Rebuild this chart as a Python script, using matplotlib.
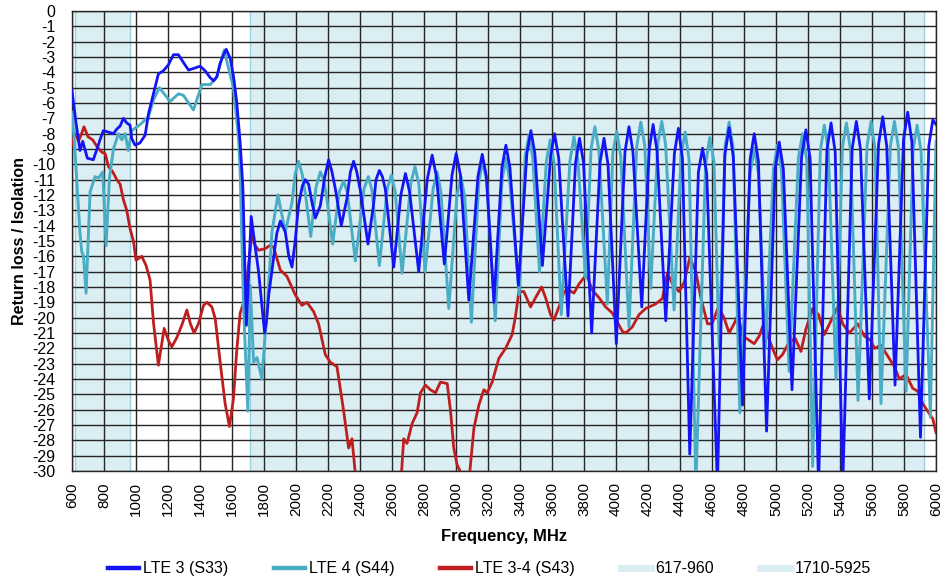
import matplotlib
matplotlib.use("Agg")
import matplotlib.pyplot as plt
from matplotlib.lines import Line2D

plt.rcParams['font.family'] = ['Liberation Sans', 'DejaVu Sans']

# ---------------- data ----------------
s33_freq = [600, 625, 650, 667, 680, 696, 733, 753, 775, 796, 828, 859, 880, 901, 921, 942, 963, 973, 994,
            1025, 1057, 1078, 1109, 1140, 1171, 1203, 1234, 1265, 1296, 1328, 1359, 1401, 1432, 1464, 1485,
            1505, 1526, 1547, 1564, 1589, 1610, 1630, 1651, 1668, 1690, 1720, 1740, 1766, 1790, 1804, 1815,
            1830, 1860, 1880, 1902, 1933, 1955, 1975, 1995, 2016, 2040, 2058, 2079, 2100, 2121, 2152, 2180,
            2204, 2225, 2246, 2283, 2319, 2340, 2360, 2380, 2402, 2450, 2485, 2500, 2521, 2540, 2558, 2611,
            2655, 2684, 2710, 2767, 2820, 2851, 2878, 2927, 2975, 3001, 3028, 3080, 3137, 3164, 3190, 3237,
            3287, 3312, 3337, 3390, 3443, 3468, 3493, 3540, 3592, 3616, 3642, 3700, 3747, 3772, 3797, 3848,
            3900, 3925, 3950, 4002, 4056, 4081, 4106, 4161, 4208, 4232, 4256, 4311, 4365, 4390, 4415, 4461,
            4515, 4541, 4567, 4634, 4680, 4707, 4733, 4791, 4838, 4864, 4890, 4941, 4995, 5020, 5046, 5100,
            5160, 5187, 5213, 5266, 5318, 5344, 5370, 5417, 5476, 5502, 5528, 5583, 5641, 5667, 5692, 5744,
            5797, 5823, 5849, 5903, 5955, 5980, 6000]
s33_db = [-5.2, -7.3, -9.1, -8.5, -9.0, -9.6, -9.7, -9.1, -8.4, -7.8, -7.9, -8.0, -7.7, -7.5, -7.0, -7.3, -7.45,
          -8.3, -8.75, -8.6, -8.1, -6.7, -5.4, -4.1, -3.9, -3.5, -2.85, -2.85, -3.35, -3.85, -3.75, -3.6, -3.9,
          -4.35, -4.55, -4.3, -3.4, -2.85, -2.5, -3.1, -4.3, -6.0, -8.6, -11.5, -20.5, -13.4, -15.0, -17.0,
          -19.5, -21.0, -20.3, -18.5, -16.1, -14.5, -13.7, -14.4, -16.0, -16.7, -15.0, -12.65, -11.4, -11.0,
          -11.3, -12.5, -13.5, -12.7, -10.8, -9.7, -10.5, -11.6, -14.0, -12.2, -10.5, -9.8, -10.5, -11.7,
          -15.2, -12.6, -11.0, -10.4, -10.8, -11.6, -16.7,
          -12.0, -10.6, -11.8, -17.0, -11.0, -9.4, -10.8, -16.5, -10.7, -9.3, -10.7, -18.85,
          -10.8, -9.35, -10.8, -19.0, -10.2, -8.75, -10.2, -17.9, -9.3, -7.8, -9.3, -16.6,
          -9.4, -8.0, -9.6, -19.9, -9.9, -8.3, -9.9, -21.0, -9.9, -8.3, -10.0, -21.7,
          -9.2, -7.55, -9.2, -19.3, -9.0, -7.4, -9.1, -20.2, -9.3, -7.65, -9.6, -28.9,
          -10.5, -8.95, -10.6, -31.0, -9.4, -7.6, -9.5, -25.7, -9.7, -8.0, -9.8, -27.4,
          -10.3, -8.55, -10.3, -24.7, -9.5, -7.75, -9.6, -31.0, -9.1, -7.3, -9.2, -31.0,
          -9.0, -7.2, -9.0, -25.3, -8.7, -6.9, -8.8, -24.4, -8.4, -6.6, -8.5, -27.8,
          -8.8, -7.1, -7.4]

s44_freq = [600, 615, 629, 650, 661, 672, 688, 713, 744, 765, 792, 813, 834, 859, 890, 911, 932, 952, 974,
            1026, 1078, 1109, 1146, 1213, 1265, 1296, 1359, 1412, 1464, 1505, 1551, 1580, 1609, 1641, 1651,
            1672, 1699, 1714, 1735, 1756, 1787, 1818, 1850, 1887, 1933, 1975, 1995, 2016, 2040, 2060, 2092,
            2125, 2152, 2170, 2190, 2229, 2270, 2298, 2320, 2371, 2425, 2452, 2475, 2521, 2570, 2596, 2620,
            2663, 2718, 2744, 2768, 2807, 2857, 2882, 2906, 2955, 3006, 3031, 3055, 3096, 3143, 3168, 3193,
            3245, 3288, 3312, 3336, 3395, 3432, 3456, 3480, 3522, 3565, 3589, 3613, 3658, 3712, 3737, 3762,
            3810, 3844, 3868, 3893, 3946, 3980, 4005, 4030, 4081, 4130, 4155, 4180, 4217, 4262, 4286, 4310,
            4363, 4407, 4432, 4457, 4499, 4560, 4586, 4612, 4645, 4682, 4707, 4732, 4774, 4838, 4864, 4890,
            4935, 4984, 5009, 5034, 5082, 5140, 5166, 5192, 5229, 5277, 5302, 5327, 5375, 5415, 5440, 5465,
            5513, 5569, 5594, 5619, 5656, 5715, 5740, 5765, 5813, 5857, 5882, 5907, 5965, 6000]
s44_db = [-6.6, -8.5, -10.9, -14.5, -15.7, -16.0, -18.4, -11.8, -10.8, -10.9, -10.5, -15.3, -10.9, -9.0, -8.0,
          -8.4, -8.0, -9.1, -7.8, -7.4, -6.9, -5.8, -5.0, -5.9, -5.4, -5.5, -6.45, -4.8, -4.8, -4.3, -2.55,
          -3.8, -5.0, -8.3, -10.5, -19.2, -26.1, -17.9, -22.9, -22.6, -24.0, -19.6, -14.4, -12.0, -14.4,
          -12.5, -10.6, -9.8, -10.7, -12.0, -14.7,
          -11.5, -10.5, -10.9, -12.0, -15.2, -11.8, -11.1, -11.8, -16.3, -11.6, -10.8, -11.7, -16.6,
          -11.6, -10.7, -11.8, -17.1, -11.2, -10.15, -11.3, -17.0, -11.6, -10.5, -11.8, -19.4,
          -12.0, -10.8, -12.2, -20.3, -11.1, -9.8, -11.2, -20.2, -11.0, -9.6, -11.1, -18.5,
          -9.5, -8.1, -9.6, -17.0, -9.8, -8.4, -9.9, -19.8, -9.8, -8.2, -9.7, -17.4,
          -9.0, -7.55, -9.1, -19.1, -9.3, -7.85, -9.5, -20.6, -8.8, -7.25, -8.8, -18.1,
          -8.6, -7.2, -8.7, -19.5, -9.4, -7.9, -9.7, -31.0, -10.0, -8.25, -9.8, -22.0,
          -8.8, -7.25, -8.9, -26.2, -10.6, -8.95, -10.6, -22.0, -10.3, -8.75, -10.4, -23.5,
          -9.6, -8.0, -9.7, -29.7, -9.1, -7.45, -9.1, -24.0, -8.9, -7.3, -9.0, -25.4,
          -8.8, -7.2, -9.0, -25.6, -8.8, -7.2, -8.9, -24.8, -9.0, -7.45, -9.2, -26.5, -8.5]

s43_freq = [600, 612, 625, 640, 660, 675, 700, 729, 760, 786, 807, 828, 855, 880, 901, 921, 942, 963, 984,
            1000, 1036, 1063, 1088, 1109, 1140, 1176, 1203, 1224, 1255, 1286, 1318, 1340, 1363, 1390, 1422,
            1443, 1474, 1495, 1526, 1557, 1584, 1609, 1630, 1651, 1683, 1703, 1724, 1745, 1766, 1808, 1835,
            1860, 1902, 1943, 1995, 2037, 2068, 2110, 2141, 2183, 2214, 2256, 2298, 2329, 2350, 2371, 2500,
            2659, 2673, 2694, 2726, 2757, 2778, 2809, 2840, 2872, 2903, 2945, 2966, 2986, 3007, 3034, 3060,
            3085, 3112, 3143, 3174, 3195, 3226, 3268, 3310, 3351, 3372, 3393, 3424, 3466, 3497, 3535, 3560,
            3591, 3612, 3647, 3675, 3706, 3737, 3769, 3815, 3852, 3894, 3935, 3977, 4009, 4040, 4061, 4102,
            4144, 4186, 4249, 4290, 4321, 4353, 4394, 4426, 4461, 4499, 4530, 4572, 4600, 4640, 4675, 4707,
            4738, 4763, 4791, 4822, 4864, 4895, 4926, 4953, 4978, 5009, 5041, 5082, 5120, 5156, 5187, 5229,
            5266, 5302, 5344, 5385, 5417, 5458, 5511, 5552, 5594, 5615, 5656, 5698, 5740, 5771, 5813, 5854,
            5886, 5917, 5948, 5980, 6000]
s43_db = [-8.75, -8.2, -8.0, -8.5, -8.0, -7.55, -8.2, -8.4, -8.9, -9.2, -9.3, -10.15, -10.5, -11.0, -11.3,
          -12.3, -13.0, -14.2, -15.0, -16.25, -16.0, -16.6, -17.55, -20.3, -23.1, -20.7, -21.5, -21.9, -21.3,
          -20.5, -19.5, -20.4, -21.0, -20.4, -19.2, -19.0, -19.3, -20.05, -22.9, -25.6, -27.1, -25.3, -22.1,
          -19.7, -18.7, -16.6, -14.6, -15.3, -15.6, -15.5, -15.3, -15.4, -16.9, -17.3, -18.5, -19.2, -19.0,
          -19.6, -20.4, -22.4, -22.9, -23.2, -26.1, -28.5, -27.9, -30.2, -33.0, -30.2, -27.9, -28.2, -26.9,
          -26.2, -24.9, -24.4, -24.7, -24.9, -24.2, -24.3, -26.1, -28.5, -29.6, -30.2, -31.0, -30.2, -27.2,
          -25.7, -24.7, -24.9, -24.2, -22.65, -22.0, -21.1, -19.9, -18.3, -18.3, -19.3, -18.7, -18.0, -18.7,
          -19.8, -20.15, -19.2, -18.3, -18.2, -18.4, -17.8, -17.2, -18.2, -18.7, -19.3, -19.7, -20.3, -20.9,
          -21.0, -20.6, -19.8, -19.4, -19.1, -18.75, -17.1, -17.8, -18.3, -17.7, -16.1, -17.0, -18.7, -20.4,
          -20.4, -19.3, -20.0, -21.0, -20.4, -19.8, -21.2, -21.4, -21.7, -21.2, -20.3, -21.3, -22.0, -22.75,
          -22.4, -21.6, -21.35, -22.2, -20.75, -19.4, -19.8, -21.1, -20.2, -19.3, -20.4, -21.0, -20.4, -21.2,
          -21.5, -22.0, -21.8, -22.5, -23.2, -24.0, -23.7, -24.6, -24.8, -25.6, -26.1, -26.6, -27.5]

band_low = (617, 960)
band_high = (1710, 5925)

series_labels = ['LTE 3 (S33)', 'LTE 4 (S44)', 'LTE 3-4 (S43)']
band_labels = ['617-960', '1710-5925']
x_ticks = list(range(600, 6001, 200))
y_ticks = list(range(-30, 1))

# ---------------- styling ----------------
c_blue = '#1414F5'
c_cyan = '#4BACC6'
c_red = '#BF1E1E'
c_band = '#DAEEF3'
c_band_edge = '#9DD1DE'

fig = plt.figure(figsize=(9.45, 5.79), dpi=100)
ax = fig.add_axes([72 / 945, 1 - 471 / 579, (936 - 72) / 945, (471 - 11) / 579])

for lo, hi in (band_low, band_high):
    ax.axvspan(lo, hi, color=c_band, zorder=0, lw=0)
    ax.axvline(lo, color=c_band_edge, lw=1.0, zorder=0.2)
    ax.axvline(hi, color=c_band_edge, lw=1.0, zorder=0.2)

ax.plot(s43_freq, s43_db, color=c_red, lw=2.0, zorder=3, solid_joinstyle='round')
ax.plot(s44_freq, s44_db, color=c_cyan, lw=2.1, zorder=4, solid_joinstyle='round')
ax.plot(s33_freq, s33_db, color=c_blue, lw=2.0, zorder=5, solid_joinstyle='round')

ax.set_xlim(600, 6000)
ax.set_ylim(-30, 0)
ax.set_xticks(x_ticks)
ax.set_yticks(y_ticks)
ax.set_xticklabels([str(t) for t in x_ticks], rotation=90, fontsize=11)
ax.set_yticklabels([str(t) for t in y_ticks], fontsize=11.5)
ax.tick_params(axis='x', length=0, pad=8)
ax.tick_params(axis='y', length=0, pad=12)
ax.set_axisbelow(True)
ax.grid(True, color='#262626', lw=1.0)
for s in ax.spines.values():
    s.set_color('#262626')
    s.set_linewidth(1.0)

ax.set_xlabel('Frequency, MHz', fontsize=12, fontweight='bold', labelpad=9)
ax.set_ylabel('Return loss / Isolation', fontsize=11.5, fontweight='bold', labelpad=4)

handles = [Line2D([], [], color=c_blue, lw=3.2),
           Line2D([], [], color=c_cyan, lw=3.2),
           Line2D([], [], color=c_red, lw=3.2),
           Line2D([], [], color=c_band, lw=5),
           Line2D([], [], color=c_band, lw=5)]
fig.legend(handles, series_labels + band_labels, loc='lower center', bbox_to_anchor=(0.518, -0.02),
           ncol=5, frameon=False, fontsize=11.5, handlelength=1.9, columnspacing=2.9, handletextpad=0.25)

fig.savefig('out.png', dpi=100)
